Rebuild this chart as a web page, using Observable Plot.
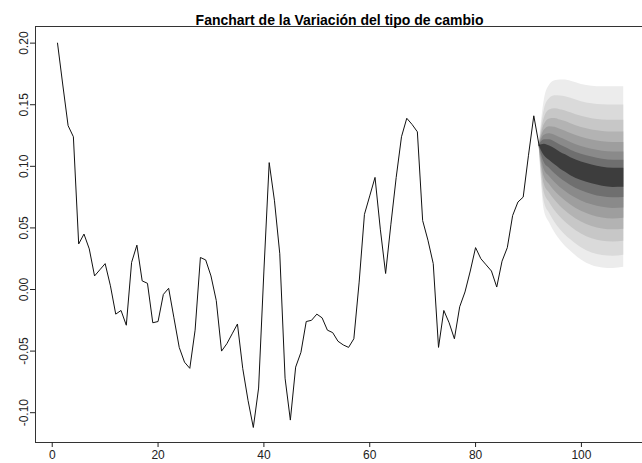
<!DOCTYPE html>
<html>
<head>
<meta charset="utf-8">
<script src="https://cdn.jsdelivr.net/npm/d3@7"></script>
<script src="https://cdn.jsdelivr.net/npm/@observablehq/plot@0.6"></script>
<style>
  body { margin: 0; background: #fff; }
</style>
</head>
<body>
<div id="chart"></div>
<script>
const title = "Fanchart de la Variación del tipo de cambio";

// Observed series, periods 1..92
const obsValues = [
  0.200, 0.166, 0.133, 0.124, 0.037, 0.045, 0.033, 0.011, 0.016, 0.021,
  0.003, -0.020, -0.017, -0.029, 0.022, 0.036, 0.007, 0.005, -0.027, -0.026,
  -0.004, 0.001, -0.023, -0.047, -0.059, -0.064, -0.033, 0.026, 0.024, 0.011,
  -0.009, -0.050, -0.044, -0.036, -0.028, -0.064, -0.090, -0.112, -0.080, 0.015,
  0.103, 0.072, 0.029, -0.072, -0.106, -0.063, -0.051, -0.026, -0.025, -0.020,
  -0.023, -0.033, -0.035, -0.042, -0.045, -0.047, -0.040, 0.006, 0.061, 0.076,
  0.091, 0.049, 0.013, 0.053, 0.091, 0.124, 0.139, 0.134, 0.128, 0.056,
  0.040, 0.021, -0.047, -0.017, -0.027, -0.040, -0.014, -0.002, 0.015, 0.034,
  0.025, 0.020, 0.015, 0.002, 0.023, 0.034, 0.060, 0.071, 0.075, 0.109,
  0.141, 0.117
];

// Forecast horizons for the fan
const fanX = [92, 93, 94, 95, 96, 97, 98, 100, 102, 104, 106, 108];

// Upper bounds of each fan band, innermost (1) to outermost (8)
const fanUpper = [
  [0.117, 0.1180, 0.1165, 0.1142, 0.1115, 0.1093, 0.1069, 0.1035, 0.1011, 0.0993, 0.0984, 0.0984],
  [0.117, 0.1216, 0.1215, 0.1197, 0.1174, 0.1153, 0.1131, 0.1098, 0.1075, 0.1058, 0.1050, 0.1050],
  [0.117, 0.1252, 0.1264, 0.1252, 0.1232, 0.1214, 0.1193, 0.1161, 0.1139, 0.1123, 0.1116, 0.1116],
  [0.117, 0.1294, 0.1322, 0.1317, 0.1300, 0.1285, 0.1266, 0.1235, 0.1213, 0.1199, 0.1193, 0.1193],
  [0.117, 0.1340, 0.1385, 0.1388, 0.1375, 0.1363, 0.1345, 0.1315, 0.1295, 0.1283, 0.1278, 0.1278],
  [0.117, 0.1392, 0.1457, 0.1467, 0.1460, 0.1450, 0.1435, 0.1406, 0.1387, 0.1377, 0.1373, 0.1373],
  [0.117, 0.1460, 0.1550, 0.1572, 0.1570, 0.1565, 0.1552, 0.1525, 0.1508, 0.1500, 0.1498, 0.1498],
  [0.117, 0.1540, 0.1660, 0.1695, 0.1700, 0.1700, 0.1690, 0.1665, 0.1650, 0.1645, 0.1645, 0.1645]
];

// Lower bounds of each fan band, innermost (1) to outermost (8)
const fanLower = [
  [0.117, 0.1085, 0.1047, 0.1012, 0.0979, 0.0951, 0.0924, 0.0885, 0.0858, 0.0838, 0.0829, 0.0830],
  [0.117, 0.1028, 0.0982, 0.0940, 0.0904, 0.0873, 0.0845, 0.0802, 0.0772, 0.0752, 0.0744, 0.0746],
  [0.117, 0.0970, 0.0916, 0.0869, 0.0829, 0.0796, 0.0765, 0.0719, 0.0687, 0.0667, 0.0658, 0.0662],
  [0.117, 0.0913, 0.0851, 0.0798, 0.0754, 0.0718, 0.0686, 0.0635, 0.0601, 0.0581, 0.0573, 0.0578],
  [0.117, 0.0853, 0.0782, 0.0724, 0.0676, 0.0637, 0.0603, 0.0548, 0.0512, 0.0492, 0.0485, 0.0490],
  [0.117, 0.0785, 0.0705, 0.0640, 0.0589, 0.0546, 0.0510, 0.0450, 0.0411, 0.0391, 0.0385, 0.0392],
  [0.117, 0.0708, 0.0617, 0.0544, 0.0488, 0.0441, 0.0403, 0.0338, 0.0296, 0.0276, 0.0270, 0.0279],
  [0.117, 0.0640, 0.0540, 0.0460, 0.0400, 0.0350, 0.0310, 0.0240, 0.0195, 0.0175, 0.0170, 0.0180]
];

// Grey shades, innermost to outermost band
const fanColors = ["#3d3d3d", "#6f6f6f", "#8a8a8a", "#9e9e9e", "#b3b3b3", "#c7c7c7", "#dadada", "#ececec"];

const xTicks = [0, 20, 40, 60, 80, 100];
const yTicks = [-0.10, -0.05, 0.00, 0.05, 0.10, 0.15, 0.20];

const observed = obsValues.map((v, i) => ({t: i + 1, v}));

// Widest band first so narrower, darker bands sit on top
const fanMarks = [];
for (let k = fanColors.length - 1; k >= 0; k--) {
  const band = fanX.map((t, j) => ({t, lo: fanLower[k][j], hi: fanUpper[k][j]}));
  fanMarks.push(Plot.areaY(band, {x: "t", y1: "lo", y2: "hi", fill: fanColors[k], curve: "monotone-x"}));
}

const chart = Plot.plot({
  width: 642,
  height: 463,
  marginLeft: 35,
  marginRight: -4,
  marginTop: 26,
  marginBottom: 21,
  style: {fontFamily: "'Liberation Sans', Arial, sans-serif", fontSize: "12px", color: "#222", background: "#fff"},
  x: {domain: [-3.16, 112.3]},
  y: {domain: [-0.1242, 0.2135]},
  marks: [
    ...fanMarks,
    Plot.lineY(observed, {x: "t", y: "v", stroke: "#111", strokeWidth: 1}),
    Plot.frame({stroke: "#333"}),
    Plot.axisX({ticks: xTicks, tickSize: 5, tickPadding: 3, tickFormat: d => String(d), label: null, fontSize: 12}),
    Plot.axisY({ticks: yTicks, tickSize: 5, tickPadding: 3, tickRotate: -90, tickFormat: d => d.toFixed(2), label: null, fontSize: 12}),
    Plot.text([title], {text: d => d, frameAnchor: "top", dx: -1.5, dy: -2, lineAnchor: "bottom", fontWeight: "bold", fontSize: 14, fill: "#000"})
  ]
});
document.getElementById("chart").appendChild(chart);
</script>
</body>
</html>
